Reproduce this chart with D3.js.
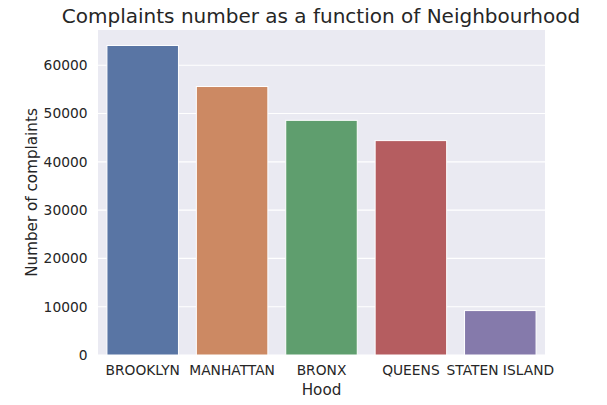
<!DOCTYPE html>
<html><head><meta charset="utf-8">
<script src="https://cdn.jsdelivr.net/npm/d3@7"></script>
<style>body{margin:0;background:#fff;} text{font-family:"DejaVu Sans",sans-serif;fill:#262626;}</style>
</head><body>
<svg id="c" width="607" height="405"></svg>
<script>
const categories = ["BROOKLYN","MANHATTAN","BRONX","QUEENS","STATEN ISLAND"];
const values = [64100, 55600, 48600, 44400, 9200];
const colors = ["#5975a4","#cc8963","#5f9e6e","#b55d60","#857aab"];
const yTicks = [0,10000,20000,30000,40000,50000,60000];

const svg = d3.select("#c");
const L=98, R=545, T=30, B=355;
const x = d3.scaleBand().domain(categories).range([L,R]).paddingInner(0.2).paddingOuter(0.1);
const y = d3.scaleLinear().domain([0, d3.max(values)*1.05]).range([B,T]);

svg.append("rect").attr("x",L).attr("y",T).attr("width",R-L).attr("height",B-T).attr("fill","#eaeaf2");
svg.append("g").selectAll("line").data(yTicks).join("line")
  .attr("x1",L).attr("x2",R).attr("y1",d=>y(d)).attr("y2",d=>y(d))
  .attr("stroke","#fff").attr("stroke-width",1.1);

svg.append("g").selectAll("rect").data(values).join("rect")
  .attr("x",(d,i)=>x(categories[i])).attr("width",x.bandwidth())
  .attr("y",d=>y(d)).attr("height",d=>B-y(d))
  .attr("fill",(d,i)=>colors[i]).attr("stroke","#fff").attr("stroke-width",1);

const ya = d3.axisLeft(y).tickValues(yTicks).tickSize(0).tickPadding(10.5).tickFormat(d3.format("d"));
const gy = svg.append("g").attr("transform",`translate(${L},0)`).call(ya);
gy.select(".domain").remove();
gy.selectAll("text").attr("font-size",13.8).style("fill","#262626");

const xa = d3.axisBottom(x).tickSize(0).tickPadding(10);
const gx = svg.append("g").attr("transform",`translate(0,${B})`).call(xa);
gx.select(".domain").remove();
gx.selectAll("text").attr("font-size",13.8).style("fill","#262626");

svg.append("text").attr("x",(L+R)/2).attr("y",394.5).attr("text-anchor","middle").attr("font-size",15.2).text("Hood");
svg.append("text").attr("transform",`translate(37,${(T+B)/2}) rotate(-90)`).attr("text-anchor","middle").attr("font-size",15.2).text("Number of complaints");
svg.append("text").attr("x",321).attr("y",23).attr("text-anchor","middle").attr("font-size",20).text("Complaints number as a function of Neighbourhood");
</script>
</body></html>
